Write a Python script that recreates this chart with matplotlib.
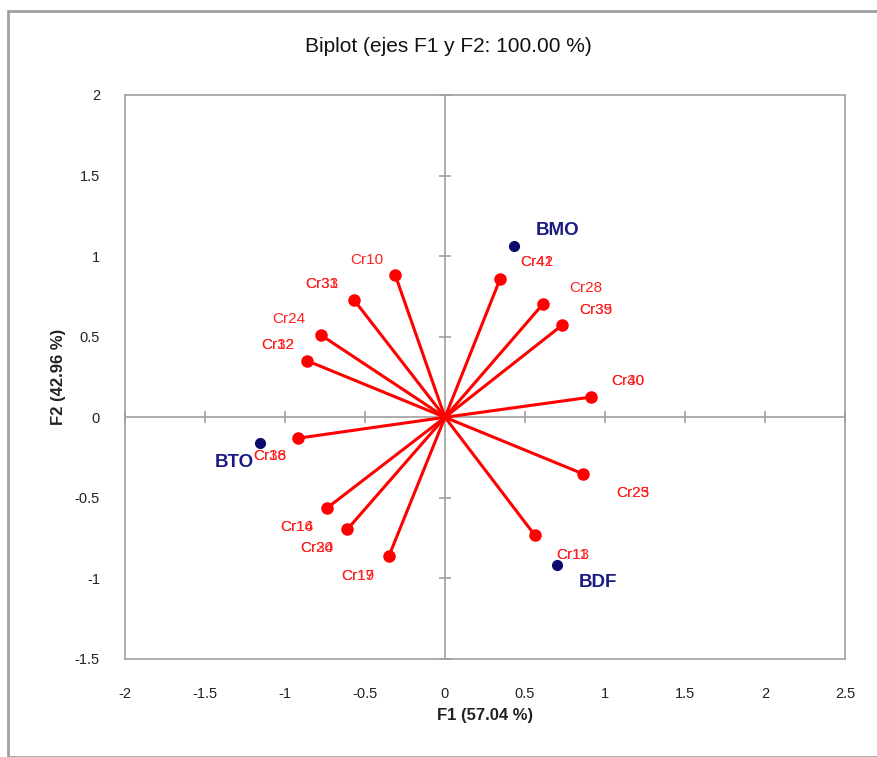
import matplotlib
matplotlib.use('Agg')
import matplotlib.pyplot as plt
from matplotlib.patches import Rectangle

plt.rcParams['font.family'] = ['Liberation Sans Narrow', 'Liberation Sans', 'DejaVu Sans']

# Variables (red vectors) - coordinates on F1/F2
var_f1 = [-0.31, -0.57, -0.775, -0.86, -0.92, -0.74, -0.61, -0.35,
          0.56, 0.86, 0.91, 0.73, 0.61, 0.345]
var_f2 = [0.88, 0.73, 0.51, 0.35, -0.13, -0.565, -0.695, -0.86,
          -0.73, -0.35, 0.125, 0.57, 0.70, 0.86]
# overlapping labels at the same spot
var_labels = [["Cr10"], ["Cr31", "Cr33"], ["Cr24"], ["Cr12", "Cr32"],
              ["Cr36", "Cr18"], ["Cr14", "Cr16"], ["Cr20", "Cr34"], ["Cr17", "Cr19"],
              ["Cr11", "Cr13"], ["Cr23", "Cr25"], ["Cr30", "Cr40"], ["Cr35", "Cr39"],
              ["Cr28"], ["Cr41", "Cr42"]]

# Observations (blue points)
obs_f1 = [0.43, -1.155, 0.70]
obs_f2 = [1.065, -0.16, -0.915]
obs_labels = ["BMO", "BTO", "BDF"]

x_ticks = [-2, -1.5, -1, -0.5, 0, 0.5, 1, 1.5, 2, 2.5]
y_ticks = [-1.5, -1, -0.5, 0, 0.5, 1, 1.5, 2]

# label offsets in pixels (layout only)
var_offsets = [(-29, 15), (-32, 16), (-32, 16), (-30, 16), (-28, -18), (-30, -19),
               (-31, -19), (-31, -20), (38, -20), (50, -19), (37, 16), (34, 15),
               (43, 16), (37, 17)]
obs_offsets = [(44, 15), (-26, -19), (41, -18)]

fig = plt.figure(figsize=(8.78, 7.57), dpi=100)
ax = fig.add_axes([125 / 878, 1 - 659 / 757, 720 / 878, 564 / 757])

grey = '#a0a0a0'
ax.set_xlim(-2, 2.5)
ax.set_ylim(-1.5, 2)
ax.set_xticks(x_ticks)
ax.set_yticks(y_ticks)
ax.set_xticklabels([f'{t:g}' for t in x_ticks])
ax.set_yticklabels([f'{t:g}' for t in y_ticks])
ax.tick_params(length=0, labelsize=10.5, colors='#222222')
ax.tick_params(axis='x', pad=20)
ax.tick_params(axis='y', pad=18)
for s in ax.spines.values():
    s.set_color(grey)
    s.set_linewidth(1.2)

# zero lines with crossing tick marks
ax.axhline(0, color=grey, lw=1.2, zorder=1)
ax.axvline(0, color=grey, lw=1.2, zorder=1)
ax.plot([0] * len(y_ticks), y_ticks, ls='none', marker='_', ms=9, mew=1.2, color=grey, zorder=1, clip_on=False)
ax.plot(x_ticks, [0] * len(x_ticks), ls='none', marker='|', ms=9, mew=1.2, color=grey, zorder=1, clip_on=False)

# vectors
for x, y, labs, off in zip(var_f1, var_f2, var_labels, var_offsets):
    ax.plot([0, x], [0, y], color='#ff0000', lw=2.2, zorder=3, solid_capstyle='round')
    ax.plot(x, y, 'o', color='#ff0000', ms=8, zorder=4)
    for lab in labs:
        ax.annotate(lab, (x, y), xytext=off, textcoords='offset pixels',
                    ha='center', va='center', color='#ff2020', fontsize=11, zorder=5)

# observations
for x, y, lab, off in zip(obs_f1, obs_f2, obs_labels, obs_offsets):
    ax.plot(x, y, 'o', color='#0a0a6e', ms=7, zorder=4)
    ax.annotate(lab, (x, y), xytext=off, textcoords='offset pixels',
                ha='center', va='center', color='#1a1a80', fontsize=13.5,
                fontweight='bold', zorder=5)

ax.set_xlabel('F1 (57.04 %)', fontsize=12, fontweight='bold', color='#222222', labelpad=5)
ax.set_ylabel('F2 (42.96 %)', fontsize=12, fontweight='bold', color='#222222', labelpad=6)
fig.text(448 / 878, 1 - 47 / 757, 'Biplot (ejes F1 y F2: 100.00 %)', ha='center', va='center',
         fontsize=15, color='#111111')

# outer chart frame
fig.patches.append(Rectangle((8 / 878, 0), 1, 1 - 11 / 757, transform=fig.transFigure,
                             fill=False, edgecolor=grey, lw=2))

fig.savefig('out.png', dpi=100)
